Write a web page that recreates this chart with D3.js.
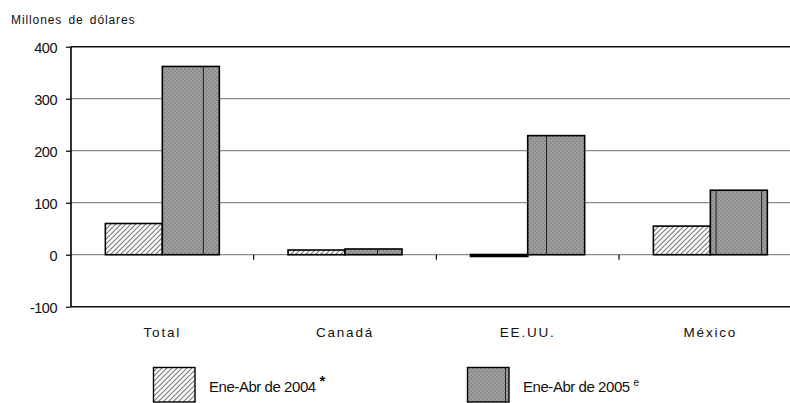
<!DOCTYPE html>
<html><head><meta charset="utf-8">
<script src="https://cdn.jsdelivr.net/npm/d3@7"></script>
<style>
html,body{margin:0;padding:0;background:#fff;}
svg{display:block;font-family:"Liberation Sans",Arial,sans-serif;}
</style></head>
<body><svg id="chart" width="790" height="403"></svg>
<script>
// ---- data ----
const categories = ["Total", "Canadá", "EE.UU.", "México"];
const seriesNames = ["Ene-Abr de 2004", "Ene-Abr de 2005"];
const seriesMarks = ["*", "e"];
const values2004 = [60, 9, -3, 55];
const values2005 = [362, 11, 229, 124];
const yTicks = [-100, 0, 100, 200, 300, 400];
const yTitle = "Millones de dólares";
// seam lines visible inside the 2005 bars of the original (fraction of bar width)
const seams2005 = [[0.72], [0.57], [0.33], [0.1, 0.9]];

const svg = d3.select("#chart");
const defs = svg.append("defs");

// hatch pattern
const hatch = defs.append("pattern").attr("id", "hatch")
  .attr("patternUnits", "userSpaceOnUse").attr("width", 5).attr("height", 5);
hatch.append("rect").attr("width", 5).attr("height", 5).attr("fill", "#fff");
hatch.append("path").attr("d", "M-1,1 L1,-1 M0,5 L5,0 M4,6 L6,4")
  .attr("stroke", "#7a7a7a").attr("stroke-width", 1.1);
// dither pattern
const dith = defs.append("pattern").attr("id", "dith")
  .attr("patternUnits", "userSpaceOnUse").attr("width", 4).attr("height", 4);
dith.append("rect").attr("width", 4).attr("height", 4).attr("fill", "#9e9e9e");
dith.append("rect").attr("width", 2).attr("height", 2).attr("fill", "#8e8e8e");
dith.append("rect").attr("x", 2).attr("y", 2).attr("width", 2).attr("height", 2).attr("fill", "#8e8e8e");

const left = 71, right = 801.7;
const x = d3.scaleBand().domain(categories).range([left, right]).padding(0);
const xs = d3.scaleBand().domain(seriesNames).range([0, x.bandwidth()]).paddingInner(0).paddingOuter(0.603);
const y = d3.scaleLinear().domain([-100, 400]).range([306.7, 46.7]);

// title
svg.append("text").attr("x", 11).attr("y", 24).attr("font-size", 12)
  .attr("letter-spacing", 0.9).attr("word-spacing", 2).attr("fill", "#111").text(yTitle);

// gridlines
svg.append("g").selectAll("line").data(yTicks.filter(d => d > -100 && d < 400)).join("line")
  .attr("x1", left).attr("x2", right).attr("y1", d => y(d)).attr("y2", d => y(d))
  .attr("stroke", "#8a8a8a").attr("stroke-width", 1.3);
// top and bottom borders
svg.append("g").selectAll("line").data([400, -100]).join("line")
  .attr("x1", left).attr("x2", right).attr("y1", d => y(d)).attr("y2", d => y(d))
  .attr("stroke", "#111").attr("stroke-width", 1.6);

// y axis
const yAxis = d3.axisLeft(y).tickValues(yTicks).tickSize(5).tickPadding(9).tickFormat(d => String(d));
const ga = svg.append("g").attr("transform", `translate(${left},0)`).call(yAxis);
ga.select(".domain").attr("stroke", "#000").attr("stroke-width", 1.6).attr("d", `M0,${y(400)}V${y(-100)}`);
ga.selectAll(".tick line").attr("stroke", "#000").attr("stroke-width", 1.2);
ga.selectAll(".tick text").attr("font-size", 14.5).attr("fill", "#111")
  .attr("font-family", "Liberation Sans, Arial, sans-serif").attr("letter-spacing", -0.5).attr("dy", "0.4em");

// category ticks on zero line
svg.append("g").selectAll("line").data(categories.slice(1)).join("line")
  .attr("x1", d => x(d)).attr("x2", d => x(d)).attr("y1", y(0)).attr("y2", y(0) + 5)
  .attr("stroke", "#000").attr("stroke-width", 1.2);

// bars
const rows = categories.map((c, i) => ({c, i, v: [values2004[i], values2005[i]]}));
const gBars = svg.append("g");
rows.forEach(r => {
  seriesNames.forEach((s, k) => {
    const v = r.v[k];
    const x0 = x(r.c) + xs(s);
    const y0 = y(Math.max(0, v)), h = Math.max(Math.abs(y(v) - y(0)), 1);
    gBars.append("rect").attr("x", x0).attr("y", y0).attr("width", xs.bandwidth()).attr("height", h)
      .attr("fill", k === 0 ? "url(#hatch)" : "url(#dith)")
      .attr("stroke", "#000").attr("stroke-width", v < 0 ? 2 : 1.6);
    if (k === 1) {
      seams2005[r.i].forEach(f => {
        gBars.append("line").attr("x1", x0 + f * xs.bandwidth()).attr("x2", x0 + f * xs.bandwidth())
          .attr("y1", y0).attr("y2", y(0)).attr("stroke", "#222").attr("stroke-width", 1);
      });
    }
  });
});

// category labels
svg.append("g").selectAll("text").data(categories).join("text")
  .attr("x", d => x(d) + x.bandwidth() / 2).attr("y", 337).attr("text-anchor", "middle")
  .attr("font-size", 13.5).attr("letter-spacing", 1.8).attr("fill", "#111").text(d => d);

// legend
const legX = [153.5, 467.5];
const lg = svg.append("g");
seriesNames.forEach((s, k) => {
  lg.append("rect").attr("x", legX[k]).attr("y", 367.5).attr("width", 41.5).attr("height", 34.5)
    .attr("fill", k === 0 ? "url(#hatch)" : "url(#dith)").attr("stroke", "#000").attr("stroke-width", 1.4);
  if (k === 1) lg.append("line").attr("x1", legX[k] + 38).attr("x2", legX[k] + 38)
    .attr("y1", 367.5).attr("y2", 402).attr("stroke", "#222").attr("stroke-width", 1);
  const t = lg.append("text").attr("x", legX[k] + 55.5).attr("y", 392.3)
    .attr("font-size", 15).attr("letter-spacing", -0.45).attr("fill", "#111").text(s + " ");
  t.append("tspan").attr("dy", -6).attr("font-size", k === 0 ? 15 : 10).attr("font-weight", k === 0 ? "bold" : "normal").text(seriesMarks[k]);
});
</script></body></html>
